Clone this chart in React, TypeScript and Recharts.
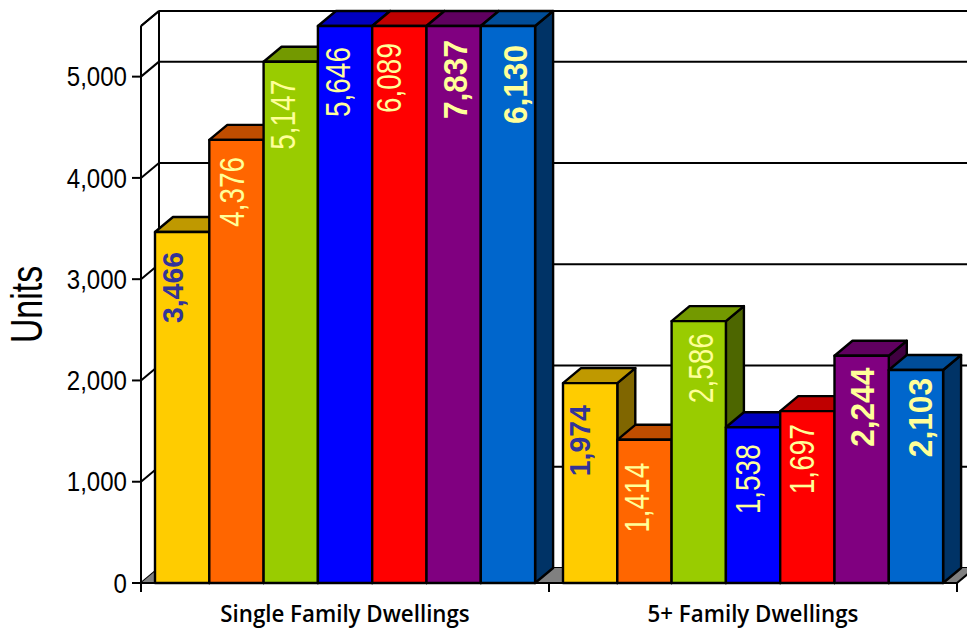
import React from "react"
import {
  BarChart,
  Bar,
  XAxis,
  YAxis,
  CartesianGrid,
  LabelList,
  usePlotArea,
} from "recharts"

const categories = ["Single Family Dwellings", "5+ Family Dwellings"]
const yTicks = [0, 1000, 2000, 3000, 4000, 5000]
const yMax = 5500

// one list per bar colour, first value = single family, second = 5+ family
const yellowValues = [3466, 1974]
const orangeValues = [4376, 1414]
const greenValues = [5147, 2586]
const blueValues = [5646, 1538]
const redValues = [6089, 1697]
const purpleValues = [7837, 2244]
const skyValues = [6130, 2103]

const series = [
  { key: "yellow", values: yellowValues },
  { key: "orange", values: orangeValues },
  { key: "green", values: greenValues },
  { key: "blue", values: blueValues },
  { key: "red", values: redValues },
  { key: "purple", values: purpleValues },
  { key: "sky", values: skyValues },
]

const data = categories.map((name, i) => {
  const row: Record<string, any> = { name }
  series.forEach((s) => {
    row[s.key] = s.values[i]
  })
  return row
})

// label fonts: the source squeezes regular and bold text differently
const REGULAR = { size: 35, weight: 400, stretch: 0.8, color: "#FFFF99" }
const BOLD = { size: 34, weight: 700, stretch: 0.93, color: "#FFFF99" }
const DARK_BOLD = { size: 29, weight: 700, stretch: 0.98, color: "#333399" }

const looks: Record<string, any> = {
  yellow: { front: "#FFCC00", top: "#BF9900", side: "#806600", label: DARK_BOLD },
  orange: { front: "#FF6600", top: "#BF4D00", side: "#803300", label: REGULAR },
  green: { front: "#99CC00", top: "#739900", side: "#4D6600", label: REGULAR },
  blue: { front: "#0000FF", top: "#0000BF", side: "#000080", label: REGULAR },
  red: { front: "#FF0000", top: "#BF0000", side: "#800000", label: REGULAR },
  purple: { front: "#800080", top: "#600060", side: "#400040", label: BOLD },
  sky: { front: "#0066CC", top: "#004D99", side: "#003366", label: BOLD },
}

// where each label sits in its bar: [shift from centre, gap below bar top], per category
const labelPlace: Record<string, number[][]> = {
  yellow: [[-9.5, 20], [-10, 22]],
  orange: [[-4.5, 17], [-8, 23]],
  green: [[-7.5, 18], [2, 12]],
  blue: [[-7.5, 21], [-5.5, 17]],
  red: [[-10, 17], [-5, 13]],
  purple: [[1.5, 14], [0.5, 12]],
  sky: [[7, 19], [4.5, 8]],
}

const FONT = "'Liberation Sans', Arial, sans-serif"
const DX = 18
const DY = 15

const bar3d = (key: string) => (props: any) => {
  const { x, y, width, height } = props
  const look = looks[key]
  const r = x + width
  const b = y + height
  return (
    <g stroke="#000" strokeWidth={2.4} strokeLinejoin="round">
      <polygon points={`${r},${y} ${r + DX},${y - DY} ${r + DX},${b - DY} ${r},${b}`} fill={look.side} />
      <polygon points={`${x},${y} ${x + DX},${y - DY} ${r + DX},${y - DY} ${r},${y}`} fill={look.top} />
      <rect x={x} y={y} width={width} height={height} fill={look.front} />
    </g>
  )
}

const barLabel = (key: string) => (props: any) => {
  const { x, y, width, value, index } = props
  const { size, weight, stretch, color } = looks[key].label
  const [shift, gap] = labelPlace[key][index]
  return (
    <text
      transform={`translate(${x + width / 2 + shift},${y + gap}) rotate(-90) scale(${stretch},1)`}
      textAnchor="end"
      dominantBaseline="central"
      fontFamily={FONT}
      fontSize={size}
      fontWeight={weight}
      fill={color}
    >
      {Number(value).toLocaleString("en-US")}
    </text>
  )
}

const YTick = (props: any) => {
  const { x, y, payload } = props
  return (
    <text
      transform={`translate(${x},${y}) scale(0.86,1)`}
      textAnchor="end"
      dominantBaseline="central"
      fontFamily={FONT}
      fontSize={28}
      fill="#000"
    >
      {Number(payload.value).toLocaleString("en-US")}
    </text>
  )
}

const XTick = (props: any) => {
  const { x, y, payload } = props
  return (
    <text
      transform={`translate(${x},${y + 33}) scale(0.97,1)`}
      textAnchor="middle"
      fontFamily="'Open Sans', sans-serif"
      fontWeight={600}
      fontSize={23}
      fill="#000"
    >
      {payload.value}
    </text>
  )
}

const UnitsLabel = (props: any) => {
  const { viewBox } = props
  const cy = viewBox.y + viewBox.height / 2
  return (
    <text
      transform={`translate(42,${cy}) rotate(-90) scale(0.77,1)`}
      textAnchor="middle"
      fontFamily={FONT}
      fontSize={44}
      fill="#000"
    >
      Units
    </text>
  )
}

// floor and the top and left edges of the back wall
const Floor = () => {
  const plot = usePlotArea()
  if (!plot) return null
  const { x, y, width, height } = plot
  const r = x + width
  const b = y + height
  return (
    <g>
      <polygon points={`${x},${b} ${r},${b} ${r + DX},${b - DY} ${x + DX},${b - DY}`} fill="#808080" />
      <g stroke="#000" strokeWidth={2} fill="none">
        <line x1={x + DX} y1={y - DY} x2={r + DX} y2={y - DY} />
        <line x1={x} y1={y} x2={x + DX} y2={y - DY} />
        <line x1={x + DX} y1={y - DY} x2={x + DX} y2={b - DY} />
        <line x1={r} y1={b} x2={r + DX} y2={b - DY} />
      </g>
    </g>
  )
}

// ticks sit on the band edges, not under the labels
const BandTicks = () => {
  const plot = usePlotArea()
  if (!plot) return null
  const { x, y, width, height } = plot
  const band = width / categories.length
  return (
    <g stroke="#000" strokeWidth={2}>
      {[0, 1, 2].map((i) => (
        <line key={i} x1={x + i * band} y1={y + height} x2={x + i * band} y2={y + height + 9} />
      ))}
    </g>
  )
}

const backGridLine = (props: any) => {
  const { x1, x2, y1, key } = props
  return (
    <g key={key} stroke="#000" strokeWidth={2}>
      <line x1={x1} y1={y1} x2={x1 + DX} y2={y1 - DY} />
      <line x1={x1 + DX} y1={y1 - DY} x2={x2 + DX} y2={y1 - DY} />
    </g>
  )
}

const App = () => {
  return (
    <div style={{ position: "absolute", left: 0, top: 0, width: 967, height: 629, background: "#fff" }}>
      <BarChart
        width={967}
        height={629}
        data={data}
        barGap={0}
        barSize={54.3}
        margin={{ top: 26, right: 10, left: 0, bottom: 0 }}
      >
        <Floor />
        <CartesianGrid vertical={false} horizontal={backGridLine} />
        <XAxis
          dataKey="name"
          height={46}
          axisLine={{ stroke: "#000", strokeWidth: 2 }}
          tickLine={false}
          tickMargin={0}
          interval={0}
          tick={XTick}
        />
        <YAxis
          width={141}
          domain={[0, yMax]}
          ticks={yTicks}
          interval={0}
          axisLine={{ stroke: "#000", strokeWidth: 2 }}
          tickLine={{ stroke: "#000", strokeWidth: 2 }}
          tickSize={9}
          tickMargin={5}
          tick={YTick}
          label={<UnitsLabel />}
        />
        {series.map((s) => (
          <Bar
            key={s.key}
            dataKey={(d: any) => Math.min(d[s.key], yMax)}
            shape={bar3d(s.key)}
            isAnimationActive={false}
          >
            <LabelList dataKey={s.key} content={barLabel(s.key)} />
          </Bar>
        ))}
        <BandTicks />
      </BarChart>
    </div>
  )
}

export default App
